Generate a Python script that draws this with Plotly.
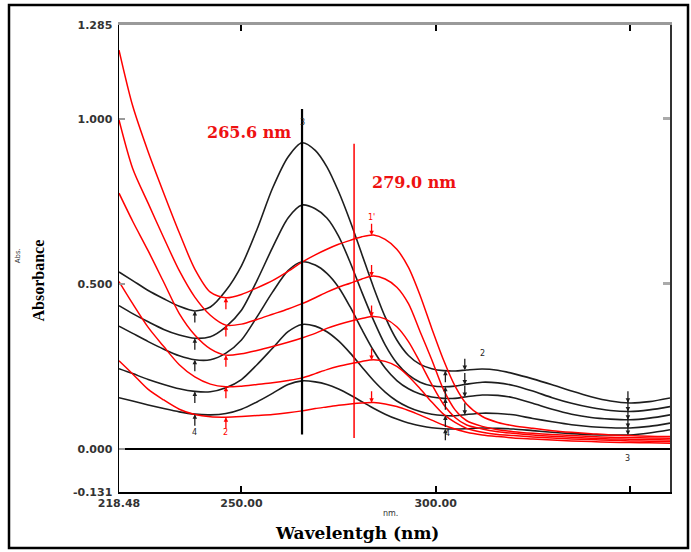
import numpy as np
import plotly.graph_objects as go

# ---------------- data ----------------
wavelength = [218.48, 222, 226, 230, 234, 238, 242, 246, 250, 254, 258, 262, 265.6,
              269, 272, 275, 278, 281, 284, 287, 290, 293, 296, 299, 302, 305, 308,
              312, 316, 320, 325, 330, 335, 340, 345, 350, 355, 360.33]

black_1 = [0.536, 0.51, 0.48, 0.455, 0.432, 0.418, 0.43, 0.48, 0.555, 0.665, 0.79, 0.885, 0.928,
           0.905, 0.855, 0.78, 0.69, 0.59, 0.49, 0.40, 0.33, 0.283, 0.256, 0.243, 0.237, 0.236, 0.239,
           0.242, 0.238, 0.228, 0.212, 0.194, 0.175, 0.158, 0.145, 0.139, 0.143, 0.154]
black_2 = [0.434, 0.41, 0.385, 0.362, 0.345, 0.335, 0.34, 0.37, 0.42, 0.51, 0.61, 0.70, 0.739,
           0.728, 0.70, 0.645, 0.565, 0.475, 0.39, 0.315, 0.26, 0.224, 0.202, 0.191, 0.188, 0.19, 0.196,
           0.202, 0.20, 0.192, 0.175, 0.155, 0.138, 0.125, 0.116, 0.113, 0.118, 0.128]
black_3 = [0.372, 0.35, 0.325, 0.302, 0.282, 0.27, 0.27, 0.29, 0.33, 0.40, 0.475, 0.54, 0.567,
           0.557, 0.532, 0.49, 0.43, 0.362, 0.298, 0.245, 0.207, 0.182, 0.166, 0.157, 0.153, 0.153, 0.158,
           0.163, 0.162, 0.155, 0.138, 0.12, 0.105, 0.095, 0.09, 0.088, 0.093, 0.103]
black_4 = [0.243, 0.228, 0.21, 0.195, 0.182, 0.174, 0.173, 0.185, 0.21, 0.255, 0.305, 0.355, 0.377,
           0.372, 0.355, 0.327, 0.29, 0.248, 0.207, 0.172, 0.145, 0.126, 0.113, 0.105, 0.101, 0.10, 0.104,
           0.108, 0.107, 0.103, 0.092, 0.082, 0.073, 0.067, 0.064, 0.063, 0.068, 0.078]
black_5 = [0.155, 0.145, 0.133, 0.122, 0.112, 0.105, 0.103, 0.107, 0.12, 0.142, 0.168, 0.195, 0.206,
           0.203, 0.195, 0.181, 0.163, 0.143, 0.123, 0.105, 0.09, 0.078, 0.07, 0.064, 0.061, 0.06, 0.061,
           0.063, 0.062, 0.06, 0.055, 0.05, 0.046, 0.043, 0.042, 0.042, 0.048, 0.058]

red_1 = [1.209, 1.04, 0.90, 0.775, 0.655, 0.545, 0.475, 0.458, 0.468, 0.488, 0.51, 0.538, 0.566,
         0.588, 0.605, 0.62, 0.632, 0.643, 0.648, 0.635, 0.605, 0.55, 0.465, 0.365, 0.27, 0.19, 0.135,
         0.098, 0.08, 0.07, 0.062, 0.055, 0.05, 0.046, 0.042, 0.04, 0.038, 0.037]
red_2 = [0.997, 0.85, 0.744, 0.64, 0.54, 0.46, 0.405, 0.375, 0.378, 0.392, 0.408, 0.424, 0.44,
         0.458, 0.475, 0.49, 0.502, 0.515, 0.524, 0.515, 0.49, 0.44, 0.355, 0.27, 0.18, 0.118, 0.085,
         0.068, 0.058, 0.052, 0.047, 0.043, 0.04, 0.037, 0.035, 0.034, 0.033, 0.032]
red_3 = [0.775, 0.69, 0.60, 0.505, 0.41, 0.345, 0.303, 0.284, 0.288, 0.298, 0.31, 0.323, 0.336,
         0.35, 0.365, 0.377, 0.387, 0.395, 0.401, 0.394, 0.37, 0.325, 0.262, 0.195, 0.135, 0.095, 0.072,
         0.06, 0.052, 0.047, 0.042, 0.038, 0.035, 0.032, 0.03, 0.029, 0.028, 0.027]
red_4 = [0.507, 0.44, 0.368, 0.31, 0.255, 0.218, 0.196, 0.188, 0.19, 0.195, 0.20, 0.207, 0.215,
         0.228, 0.24, 0.25, 0.258, 0.265, 0.27, 0.265, 0.25, 0.22, 0.182, 0.142, 0.105, 0.08, 0.062,
         0.05, 0.043, 0.04, 0.036, 0.033, 0.03, 0.028, 0.026, 0.024, 0.023, 0.022]
red_5 = [0.267, 0.227, 0.18, 0.148, 0.12, 0.104, 0.097, 0.096, 0.098, 0.101, 0.104, 0.109, 0.115,
         0.122, 0.127, 0.132, 0.136, 0.139, 0.14, 0.136, 0.128, 0.116, 0.102, 0.087, 0.072, 0.06, 0.05,
         0.042, 0.037, 0.033, 0.03, 0.027, 0.024, 0.022, 0.02, 0.019, 0.018, 0.017]

black_curves = [black_1, black_2, black_3, black_4, black_5]
red_curves = [red_1, red_2, red_3, red_4, red_5]

peak_black = 265.6
peak_red = 279.0
peak_labels = ["265.6 nm", "279.0 nm"]

x_range = [218.48, 360.33]
y_range = [-0.131, 1.285]
x_tickvals = [218.48, 250.0, 300.0, 350.0, 360.33]
x_ticktext = ["218.48", "250.00", "300.00", "", "360.33"]
y_tickvals = [-0.131, 0.0, 0.5, 1.0, 1.285]
y_ticktext = ["-0.131", "0.000", "0.500", "1.000", "1.285"]

BLACK = "#1e1e1e"
RED = "#ff0000"

fig = go.Figure()

for ys in black_curves:
    fig.add_trace(go.Scatter(x=wavelength, y=ys, mode="lines",
                             line=dict(color=BLACK, width=1.6, shape="spline", smoothing=0.8),
                             hoverinfo="skip", showlegend=False))
for ys in red_curves:
    fig.add_trace(go.Scatter(x=wavelength, y=ys, mode="lines",
                             line=dict(color=RED, width=1.5, shape="spline", smoothing=0.8),
                             hoverinfo="skip", showlegend=False))

# vertical marker lines
fig.add_trace(go.Scatter(x=[peak_black, peak_black], y=[0.043, 1.03], mode="lines",
                         line=dict(color="black", width=2.2), hoverinfo="skip", showlegend=False))
fig.add_trace(go.Scatter(x=[peak_red, peak_red], y=[0.033, 0.925], mode="lines",
                         line=dict(color=RED, width=1.5), hoverinfo="skip", showlegend=False))

# invisible trace on secondary axes
fig.add_trace(go.Scatter(x=x_range, y=y_range, mode="markers", marker=dict(opacity=0),
                         xaxis="x2", yaxis="y2", hoverinfo="skip", showlegend=False))

annotations = []
serif_b = "DejaVu Serif"
annotations.append(dict(x=251.85, y=0.958, xref="x", yref="y", text="<b>%s</b>" % peak_labels[0],
                        xanchor="center", yanchor="middle",
                        showarrow=False, font=dict(family=serif_b, size=16, color="#ee1111")))
annotations.append(dict(x=294.3, y=0.808, xref="x", yref="y", text="<b>%s</b>" % peak_labels[1],
                        xanchor="center", yanchor="middle",
                        showarrow=False, font=dict(family=serif_b, size=16, color="#ee1111")))

# small arrows at characteristic wavelengths
wl = np.array(wavelength)
def arrow(xv, curve, color, up=True):
    yv = float(np.interp(xv, wl, curve))
    return dict(x=xv, y=yv, xref="x", yref="y", ax=0, ay=(13 if up else -13), text="",
                showarrow=True, arrowhead=2, arrowsize=0.7, arrowwidth=1.3, arrowcolor=color)

for c in black_curves:
    annotations.append(arrow(238.0, c, BLACK, up=True))
for c in red_curves:
    annotations.append(arrow(246.0, c, RED, up=True))
for c in red_curves:
    annotations.append(arrow(283.5, c, RED, up=False))
for c in black_curves:
    annotations.append(arrow(302.5, c, BLACK, up=True))
for c in black_curves[:4]:
    annotations.append(arrow(307.5, c, BLACK, up=False))
for c in black_curves:
    annotations.append(arrow(349.5, c, BLACK, up=False))

small = dict(family="DejaVu Sans", size=8)
def num(xv, yv, t, color):
    return dict(x=xv, y=yv, xref="x", yref="y", text=t, showarrow=False,
                xanchor="center", yanchor="middle", font=dict(small, color=color))
annotations += [
    num(238.0, 0.05, "4", BLACK), num(246.0, 0.05, "2", RED),
    num(283.5, 0.70, "1'", RED), num(265.6, 0.99, "3", BLACK),
    num(303.0, 0.045, "4", BLACK), num(312.0, 0.29, "2", BLACK),
    num(349.5, -0.03, "3", BLACK),
]

# axis titles
annotations.append(dict(x=0.432, y=-0.088, xref="paper", yref="paper", text="<b>Wavelentgh (nm)</b>",
                        xanchor="center", yanchor="middle",
                        showarrow=False, font=dict(family=serif_b, size=17, color="black")))
annotations.append(dict(x=0.492, y=-0.047, xref="paper", yref="paper", text="nm.",
                        xanchor="center", yanchor="middle",
                        showarrow=False, font=dict(family="DejaVu Sans", size=8, color="#333")))
annotations.append(dict(x=-0.146, y=0.452, xref="paper", yref="paper", text="<b>Absorbance</b>",
                        xanchor="center", yanchor="middle",
                        textangle=-90, showarrow=False,
                        font=dict(family="Liberation Serif", size=16, color="black")))
annotations.append(dict(x=-0.183, y=0.505, xref="paper", yref="paper", text="Abs.",
                        xanchor="center", yanchor="middle",
                        textangle=-90, showarrow=False,
                        font=dict(family="DejaVu Sans", size=7, color="#333")))

tickfont = dict(family="DejaVu Sans", size=11, color="#333", weight="bold")

fig.update_layout(
    width=691, height=552,
    margin=dict(l=119, r=21, t=25, b=60),
    paper_bgcolor="white", plot_bgcolor="white",
    showlegend=False,
    hovermode=False,
    annotations=annotations,
    xaxis=dict(range=x_range, tickvals=x_tickvals, ticktext=x_ticktext, ticks="inside",
               ticklen=6, tickwidth=2, tickcolor="black", showgrid=False, zeroline=False,
               showline=True, linecolor="black", linewidth=2, tickfont=tickfont, fixedrange=True),
    xaxis2=dict(range=x_range, overlaying="x", side="top", tickvals=x_tickvals[1:4],
                showticklabels=False, ticks="inside", ticklen=6, tickwidth=2, tickcolor="black",
                showgrid=False, zeroline=False, showline=True, linecolor="#9a9a9a", linewidth=3,
                fixedrange=True),
    yaxis=dict(range=y_range, tickvals=y_tickvals, ticktext=y_ticktext, ticks="inside",
               ticklen=6, tickwidth=2, tickcolor="#999", showgrid=False,
               zeroline=True, zerolinecolor="black", zerolinewidth=1.5,
               showline=True, linecolor="black", linewidth=1.5, tickfont=tickfont,
               ticklabelstandoff=3, fixedrange=True),
    yaxis2=dict(range=y_range, overlaying="y", side="right", tickvals=[0.5, 1.0],
                showticklabels=False, ticks="inside", ticklen=7, tickwidth=3, tickcolor="#aaa",
                showgrid=False, zeroline=False, showline=True, linecolor="#333", linewidth=1.5,
                fixedrange=True),
    shapes=[dict(type="rect", xref="paper", yref="paper",
                 x0=(9 - 119) / 551, x1=(688 - 119) / 551,
                 y0=(492 - 548) / 467, y1=(492 - 5) / 467,
                 line=dict(color="black", width=2.5), fillcolor="rgba(0,0,0,0)", layer="above")],
)

fig.write_html("out.html", config={"displayModeBar": False, "staticPlot": True},
               post_script="document.body.style.margin='0px';")
